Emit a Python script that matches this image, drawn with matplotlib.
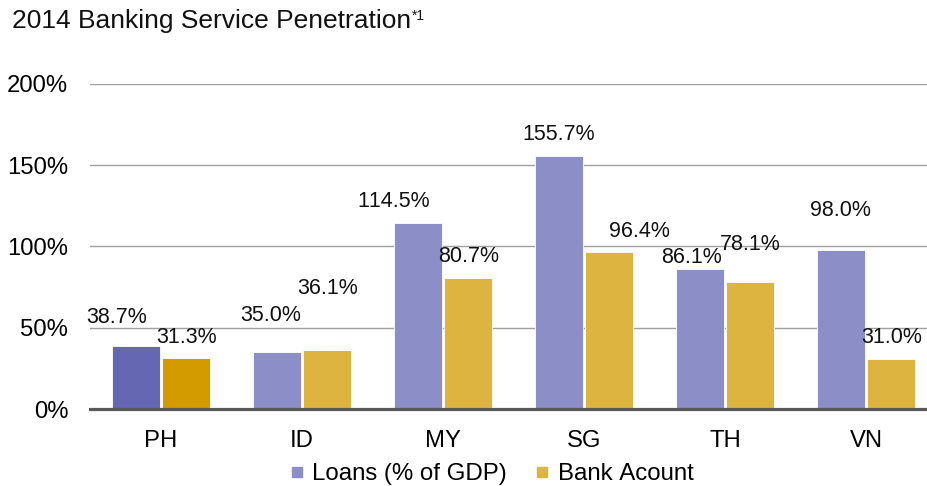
import matplotlib
matplotlib.use('Agg')
import matplotlib.pyplot as plt
from matplotlib.lines import Line2D
import numpy as np

# data
countries = ['PH', 'ID', 'MY', 'SG', 'TH', 'VN']
loans = [38.7, 35.0, 114.5, 155.7, 86.1, 98.0]
bank_account = [31.3, 36.1, 80.7, 96.4, 78.1, 31.0]
yticks = [0, 50, 100, 150, 200]

# label nudges (x in category units, y in % above bar top)
loans_dx = [-0.135, -0.04, -0.17, 0.0, -0.06, 0.0]
loans_dy = [14.3, 19.3, 10.0, 10.0, 3.9, 20.5]
bank_dx = [0.0, 0.0, 0.0, 0.21, 0.0, 0.0]
bank_dy = [9.4, 34.5, 10.0, 9.2, 19.7, 9.8]

plt.rcParams['font.family'] = ['Liberation Sans', 'DejaVu Sans']
plt.rcParams['text.kerning_factor'] = 10

loan_col = '#8b8ec7'
bank_col = '#ddb440'
loan_hi = '#6567b2'
bank_hi = '#d49b00'

W, H = 928, 486
fig = plt.figure(figsize=(W / 100, H / 100), dpi=100)
ax = fig.add_axes([90.5 / W, 77 / H, 846 / W, 325 / H])

x = np.arange(len(countries))
bw = 0.34
off = 0.18
lc = [loan_hi] + [loan_col] * (len(countries) - 1)
bc = [bank_hi] + [bank_col] * (len(countries) - 1)
ax.bar(x - off, loans, bw, color=lc, edgecolor='white', linewidth=0.6, zorder=3)
ax.bar(x + off, bank_account, bw, color=bc, edgecolor='white', linewidth=0.6, zorder=3)

for i in range(len(countries)):
    ax.text(x[i] - off + loans_dx[i], loans[i] + loans_dy[i], f'{loans[i]:.1f}%',
            ha='center', va='baseline', fontsize=15.5, color='#111111', zorder=4)
    ax.text(x[i] + off + bank_dx[i], bank_account[i] + bank_dy[i], f'{bank_account[i]:.1f}%',
            ha='center', va='baseline', fontsize=15.5, color='#111111', zorder=4)

ax.set_xlim(-0.5, len(countries) - 0.5)
ax.set_ylim(0, 200)
ax.set_yticks(yticks)
ax.set_yticklabels([f'{t}%' for t in yticks], fontsize=17.2)
ax.set_xticks(x)
ax.set_xticklabels(countries, fontsize=17.2)
ax.tick_params(axis='y', length=0, pad=16)
ax.tick_params(axis='x', length=0, pad=15)
ax.yaxis.grid(True, color='#a0a0a0', linewidth=1.0, zorder=0)
ax.set_axisbelow(True)
for s in ax.spines.values():
    s.set_visible(False)
ax.axhline(0, color='#595959', linewidth=2.3, zorder=5, clip_on=False)

handles = [Line2D([], [], marker='s', ls='', color=loan_col, markersize=6.5),
           Line2D([], [], marker='s', ls='', color=bank_col, markersize=6.5)]
fig.legend(handles, ['Loans (% of GDP)', 'Bank Acount'], loc='center',
           bbox_to_anchor=(492 / W, 1 - 474 / H), ncol=2, frameon=False,
           fontsize=17.3, handlelength=0.5, handletextpad=0.4, columnspacing=1.2)

t = fig.text(12 / W, 1 - 28 / H, '2014 Banking Service Penetration',
             fontsize=19, ha='left', va='baseline', color='#111111')
fig.canvas.draw()
bb = t.get_window_extent()
fig.text(bb.x1 / W + 1 / W, bb.y1 / H, '*1', fontsize=10, ha='left', va='top', color='#111111')

fig.savefig('out.png', dpi=100)
